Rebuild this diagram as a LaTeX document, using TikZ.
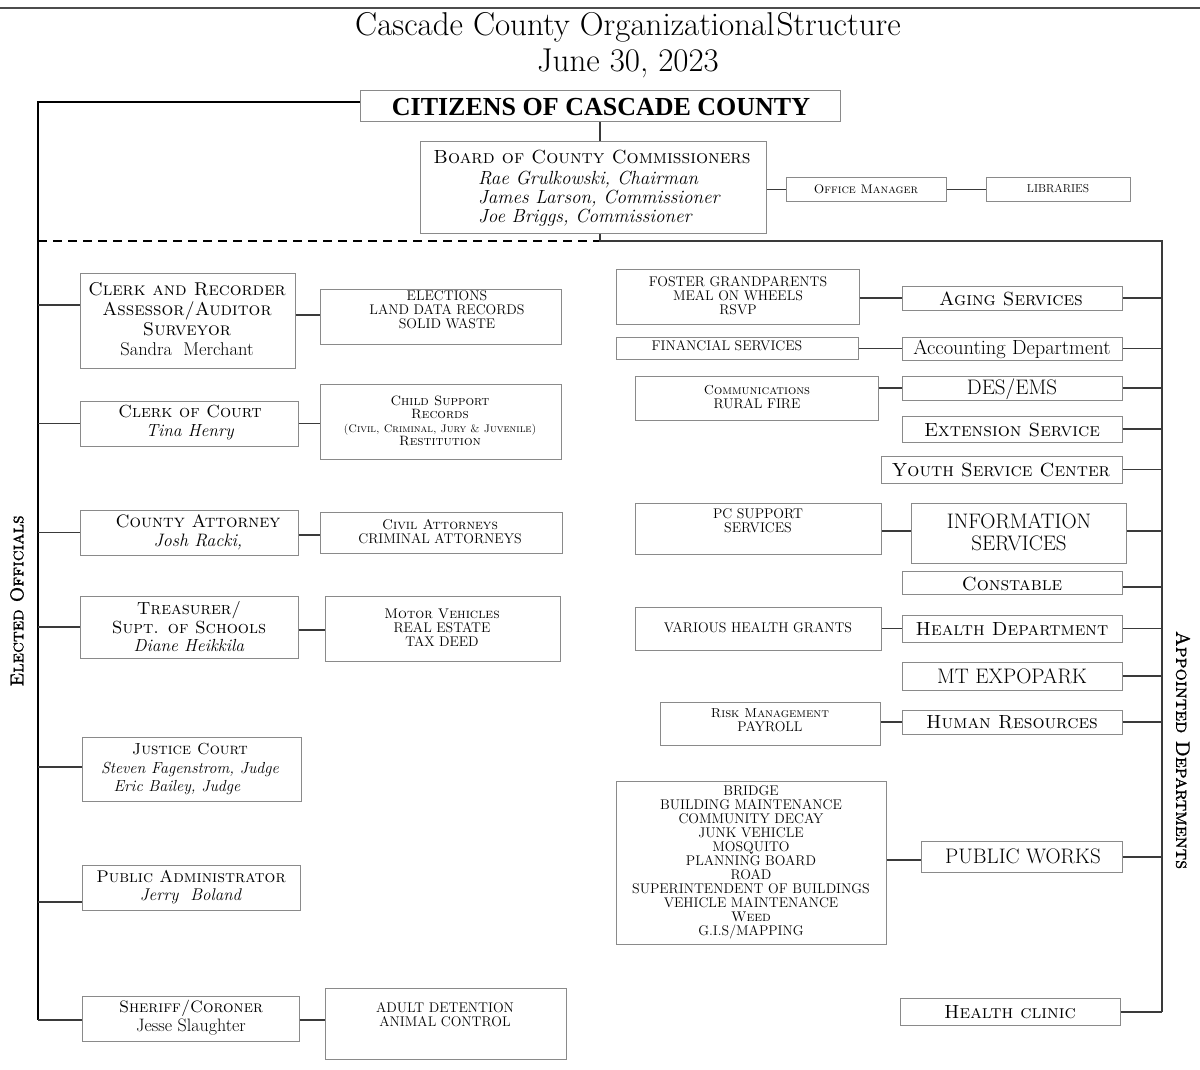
\documentclass[tikz,border=0pt]{standalone}
\usepackage{fontspec}
\newfontfamily\tnr{Liberation Serif}
\newfontfamily\capsbold[Extension=.otf, FakeBold=1.2]{lmromancaps10-regular}
\usetikzlibrary{fit}
\newcommand\fsz[2]{\fontsize{#1}{#2}\selectfont}
\newcommand\bx[5]{\node[bx, fit={(#2,#3) (#4,#5)}] (#1) {};}
\definecolor{boxgray}{HTML}{8A8A8A}
\definecolor{lngray}{HTML}{3A3A3A}
\begin{document}
\begin{tikzpicture}[x=1pt,y=-1pt,
  bx/.style={draw=boxgray, line width=1pt, inner sep=0pt, rectangle},
  ln/.style={draw=lngray, line width=1.2pt},
  spine/.style={draw=black, line width=1.3pt},
  tx/.style={inner sep=0pt, align=center, font=\fsz{18.5}{20}},
  sm/.style={inner sep=0pt, align=center, font=\fsz{14}{14}},
  lbl/.style={inner sep=0pt, font=\fsz{19}{20}},
  capbox/.style={inner sep=0pt, align=center, font=\fsz{21}{21}},
]
\useasboundingbox (0,0) rectangle (1200,1070);
\draw[draw=black!70, line width=1.2pt] (0,8) -- (1200,8);

% title
\node[inner sep=0pt, font=\fsz{33}{36}] (t1) at (628,27) {Cascade County Organizational\kern2pt Structure};
\node[inner sep=0pt, font=\fsz{33}{36}] (t2) at (628,63) {June 30, 2023};

% top
\bx{cit}{360}{91}{840}{122}
\node[inner sep=0pt, font=\tnr\bfseries\fsz{26}{28}] (citt) at (601,107) {CITIZENS OF CASCADE COUNTY};
\bx{board}{420}{142}{766}{233}
\node[inner sep=0pt, font=\fsz{19}{19}] (boardh) at (592,157) {\textsc{Board of County Commissioners}};
\node[inner sep=0pt, anchor=west, align=left, font=\itshape\fsz{19}{19}] (boardn) at (478,199) {Rae Grulkowski, Chairman\\James Larson, Commissioner\\Joe Briggs, Commissioner};
\bx{off}{786}{178}{946}{201}
\node[sm, font=\fsz{12.5}{14}] (offt) at (866,189) {\textsc{Office Manager}};
\bx{lib}{986}{178}{1130}{201}
\node[sm, font=\fsz{11.5}{12}] (libt) at (1058,189) {LIBRARIES};

% spines
\coordinate (Ltop) at (38,102);
\coordinate (Lbot) at (38,1020);
\coordinate (Lsp) at (38,0);
\coordinate (Lmid) at (38,241);
\coordinate (J) at (600,241);
\coordinate (Rtop) at (1162,241);
\coordinate (Rbot) at (1162,1012);
\coordinate (Rsp) at (1162,0);
\draw[spine] (cit.west |- Ltop) -- (Ltop) -- (Lbot);
\draw[spine, dash pattern=on 9pt off 6pt] (Lmid) -- (J);
\draw[ln] (cit.south -| J) -- (board.north -| J);
\draw[ln] (board.south -| J) -- (J) -- (Rtop) -- (Rbot);
\draw[ln] (board.east |- off.west) -- (off.west);
\draw[ln] (off.east) -- (lib.west);

% elected officials
\node[lbl, rotate=90, font=\capsbold\fsz{18.5}{19}] (eo) at (17,601) {Elected Officials};

\bx{clerk}{80}{273}{295}{368}
\node[tx] (clerkt) at (187,319) {\textsc{Clerk and Recorder}\\\textsc{Assessor/Auditor}\\\textsc{Surveyor}\\Sandra\ \ Merchant};
\bx{elec}{320}{289}{561}{344}
\node[sm] (elect) at (447,310) {ELECTIONS\\LAND DATA RECORDS\\SOLID WASTE};
\draw[ln] (Lsp |- 0,305) -- (clerk.west |- 0,305);
\draw[ln] (clerk.east |- 0,315) -- (elec.west |- 0,315);

\bx{coc}{80}{401}{298}{446}
\node[tx, font=\fsz{17.5}{19}] (coct) at (190,423) {\textsc{Clerk of Court}\\\textit{Tina Henry}};
\bx{cs}{320}{384}{561}{459}
\node[sm, font=\fsz{13.5}{13.5}] (cst) at (440,421) {\textsc{Child Support}\\\textsc{Records}\\{\fsz{11}{13}\textsc{(Civil, Criminal, Jury \& Juvenile)}}\\\textsc{Restitution}};
\draw[ln] (Lsp |- coc.west) -- (coc.west);
\draw[ln] (coc.east) -- (cs.west |- coc.east);

\bx{ca}{80}{510}{298}{555}
\node[tx, font=\fsz{18}{19}] (cat) at (198,532) {\textsc{County Attorney}\\\textit{Josh Racki,}};
\bx{civ}{320}{512}{562}{553}
\node[sm] (civt) at (440,532) {\textsc{Civil Attorneys}\\CRIMINAL ATTORNEYS};
\draw[ln] (Lsp |- ca.west) -- (ca.west);
\draw[ln] (ca.east |- 0,535) -- (civ.west |- 0,535);

\bx{tre}{80}{596}{298}{658}
\node[tx, font=\fsz{17.5}{18.5}] (tret) at (189,627) {\textsc{Treasurer/}\\\textsc{Supt. of Schools}\\\textit{Diane Heikkila}};
\bx{mv}{325}{596}{560}{661}
\node[sm] (mvt) at (442,628) {\textsc{Motor Vehicles}\\REAL ESTATE\\TAX DEED};
\draw[ln] (Lsp |- tre.west) -- (tre.west);
\draw[ln] (tre.east |- 0,630) -- (mv.west |- 0,630);

\bx{jc}{82}{737}{301}{801}
\node[tx, font=\fsz{16}{18.5}] (jct) at (190,769) {\textsc{Justice Court}\\\textit{Steven Fagenstrom, Judge}\\\textit{Eric Bailey, Judge}\hspace*{26pt}};
\draw[ln] (Lsp |- 0,767) -- (jc.west |- 0,767);

\bx{pa}{82}{865}{300}{910}
\node[tx, font=\fsz{17}{18}] (pat) at (191,887) {\textsc{Public Administrator}\\\textit{Jerry\ \ Boland}};
\draw[ln] (Lsp |- 0,902) -- (pa.west |- 0,902);

\bx{sh}{82}{996}{299}{1041}
\node[tx, font=\fsz{18}{19}] (sht) at (191,1018) {{\fsz{16.5}{19}\textsc{Sheriff/Coroner}}\\Jesse Slaughter};
\bx{ad}{325}{988}{566}{1059}
\node[sm] (adt) at (445,1015) {ADULT DETENTION\\ANIMAL CONTROL};
\draw[ln] (Lbot) -- (sh.west |- Lbot);
\draw[ln] (sh.east |- Lbot) -- (ad.west |- Lbot);

% appointed departments
\node[lbl, rotate=-90, font=\capsbold\fsz{19.5}{20}] (apd) at (1183,750) {Appointed Departments};

\bx{fg}{616}{269}{859}{324}
\node[sm] (fgt) at (738,296) {FOSTER GRANDPARENTS\\MEAL ON WHEELS\\RSVP};
\bx{ag}{902}{286}{1122}{310}
\node[lbl] (agt) at (1011,299) {\textsc{Aging Services}};
\draw[ln] (fg.east |- ag.west) -- (ag.west);
\draw[ln] (ag.east) -- (Rsp |- ag.east);

\bx{fs}{616}{337}{858}{359}
\node[sm] (fst) at (727,346) {FINANCIAL SERVICES};
\bx{acc}{902}{337}{1122}{360}
\node[lbl, font=\fsz{20.5}{21}] (acct) at (1012,349) {Accounting Department};
\draw[ln] (fs.east |- acc.west) -- (acc.west);
\draw[ln] (acc.east) -- (Rsp |- acc.east);

\bx{com}{635}{376}{878}{420}
\node[sm] (comt) at (757,397) {{\fsz{13}{14}\textsc{Communications}}\\RURAL FIRE};
\bx{des}{902}{376}{1122}{400}
\node[capbox] (dest) at (1012,389) {DES/EMS};
\draw[ln] (com.east |- des.west) -- (des.west);
\draw[ln] (des.east) -- (Rsp |- des.east);

\bx{ext}{902}{416}{1122}{442}
\node[lbl] (extt) at (1012,430) {\textsc{Extension Service}};
\draw[ln] (ext.east) -- (Rsp |- ext.east);

\bx{ysc}{881}{456}{1122}{483}
\node[lbl] (ysct) at (1001,470) {\textsc{Youth Service Center}};
\draw[ln] (ysc.east) -- (Rsp |- ysc.east);

\bx{pc}{635}{503}{881}{554}
\node[sm] (pct) at (758,521) {PC SUPPORT\\SERVICES};
\bx{is}{911}{503}{1126}{563}
\node[capbox, font=\fsz{21}{22}] (ist) at (1019,532) {INFORMATION\\SERVICES};
\draw[ln] (pc.east |- 0,531) -- (is.west |- 0,531);
\draw[ln] (is.east |- 0,531) -- (Rsp |- 0,531);

\bx{con}{902}{571}{1122}{594}
\node[lbl] (cont) at (1012,584) {\textsc{Constable}};
\draw[ln] (con.east |- 0,587) -- (Rsp |- 0,587);

\bx{vhg}{635}{607}{881}{650}
\node[sm] (vhgt) at (758,628) {VARIOUS HEALTH GRANTS};
\bx{hd}{902}{615}{1122}{642}
\node[lbl] (hdt) at (1012,629) {\textsc{Health Department}};
\draw[ln] (vhg.east |- hd.west) -- (hd.west);
\draw[ln] (hd.east) -- (Rsp |- hd.east);

\bx{mte}{902}{662}{1122}{690}
\node[capbox] (mtet) at (1012,676) {MT EXPOPARK};
\draw[ln] (mte.east) -- (Rsp |- mte.east);

\bx{rm}{660}{702}{880}{745}
\node[sm] (rmt) at (770,720) {{\fsz{13}{14}\textsc{Risk Management}}\\PAYROLL};
\bx{hr}{902}{710}{1122}{734}
\node[lbl] (hrt) at (1012,722) {\textsc{Human Resources}};
\draw[ln] (rm.east |- hr.west) -- (hr.west);
\draw[ln] (hr.east) -- (Rsp |- hr.east);

\bx{pwl}{616}{781}{886}{944}
\node[sm] (pwlt) at (751,862) {BRIDGE\\BUILDING MAINTENANCE\\COMMUNITY DECAY\\JUNK VEHICLE\\MOSQUITO\\PLANNING BOARD\\ROAD\\SUPERINTENDENT OF BUILDINGS\\VEHICLE MAINTENANCE\\\textsc{Weed}\\G.I.S/MAPPING};
\bx{pw}{921}{841}{1122}{872}
\node[capbox] (pwt) at (1023,856) {PUBLIC WORKS};
\draw[ln] (pwl.east |- 0,860) -- (pw.west |- 0,860);
\draw[ln] (pw.east |- 0,857) -- (Rsp |- 0,857);

\bx{hc}{900}{998}{1120}{1025}
\node[lbl] (hct) at (1010,1012) {\textsc{Health clinic}};
\draw[ln] (hc.east |- Rbot) -- (Rbot);
\end{tikzpicture}
\end{document}
